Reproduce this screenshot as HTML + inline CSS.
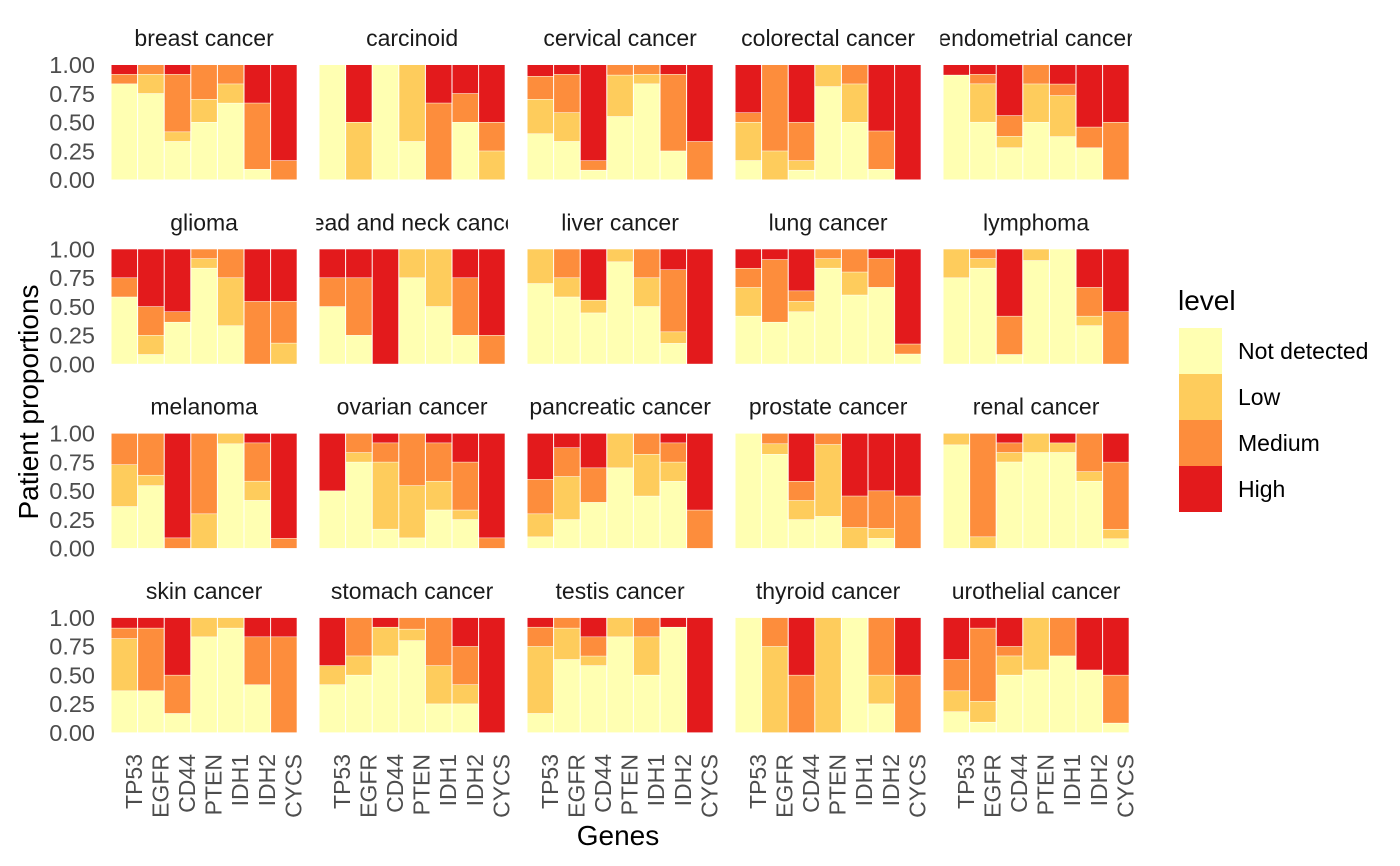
<!DOCTYPE html>
<html><head><meta charset="utf-8"><style>
html,body{margin:0;padding:0;background:#fff;}
svg{display:block;font-family:"Liberation Sans",Arial,sans-serif;}
</style></head><body>
<svg id="chart" width="1400" height="866" viewBox="0 0 1400 866" xmlns="http://www.w3.org/2000/svg">
<g id="panels"></g>
<text x="618" y="845" font-size="28" fill="#000" text-anchor="middle">Genes</text>
<text transform="translate(38,402) rotate(-90)" font-size="28" fill="#000" text-anchor="middle">Patient proportions</text>
<g>
<text x="1178" y="310" font-size="28" fill="#000">level</text>
<rect x="1179" y="328" width="43" height="46" fill="#FFFFB2"/>
<rect x="1179" y="374" width="43" height="46" fill="#FECC5C"/>
<rect x="1179" y="420" width="43" height="46" fill="#FD8D3C"/>
<rect x="1179" y="466" width="43" height="46" fill="#E31A1C"/>
<text x="1238" y="359" font-size="23" fill="#000">Not detected</text>
<text x="1238" y="405" font-size="23" fill="#000">Low</text>
<text x="1238" y="451" font-size="23" fill="#000">Medium</text>
<text x="1238" y="497" font-size="23" fill="#000">High</text>
</g>
</svg>
<script>
const cancers = ["breast cancer","carcinoid","cervical cancer","colorectal cancer","endometrial cancer","glioma","head and neck cancer","liver cancer","lung cancer","lymphoma","melanoma","ovarian cancer","pancreatic cancer","prostate cancer","renal cancer","skin cancer","stomach cancer","testis cancer","thyroid cancer","urothelial cancer"];
const genes = ["TP53","EGFR","CD44","PTEN","IDH1","IDH2","CYCS"];
const levels = ["Not detected","Low","Medium","High"];
const yTicks = [0,0.25,0.5,0.75,1];
const yTickLabels = ["0.00","0.25","0.50","0.75","1.00"];
const notDetected = [
[.833,.75,.333,.5,.667,.091,0],[1,0,1,.333,0,.5,0],[.4,.333,.083,.55,.833,.25,0],[.167,0,.083,.81,.5,.091,0],[.91,.5,.278,.5,.375,.278,0],
[.583,.083,.364,.833,.333,0,0],[.5,.25,0,.75,.5,.25,0],[.7,.583,.444,.889,.5,.18,0],[.417,.364,.455,.833,.6,.667,.087],[.75,.833,.083,.9,1,.333,0],
[.364,.545,0,0,.909,.417,0],[.5,.75,.167,.091,.333,.25,0],[.1,.25,.4,.7,.455,.583,0],[1,.818,.25,.278,0,.087,0],[.9,0,.75,.833,.833,.583,.083],
[.364,.364,.167,.833,.909,.417,0],[.417,.5,.667,.8,.25,.25,0],[.167,.636,.583,.833,.5,.917,0],[1,0,0,0,1,.25,0],[.182,.091,.5,.545,.667,.545,.083]];
const low = [
[0,.167,.083,.2,.167,0,0],[0,.5,0,.667,0,0,.25],[.3,.25,0,.36,.083,0,0],[.333,.25,.083,.19,.333,0,0],[0,.333,.1,.333,.357,0,0],
[0,.167,0,.083,.417,0,.182],[0,0,0,.25,.5,0,0],[.3,.167,.111,.111,.25,.1,0],[.25,0,.091,.083,.2,0,0],[.25,.083,0,.1,0,.083,0],
[.364,.091,0,.3,.091,.167,0],[0,.083,.583,.455,.25,.083,0],[.2,.375,0,.3,.364,.167,0],[0,.091,.167,.625,.182,.087,0],[.1,.1,.083,.167,.083,.083,.083],
[.455,0,0,.167,.091,0,0],[.167,.167,.25,.1,.333,.167,0],[.583,.273,.083,.167,.333,0,0],[0,.75,0,1,0,.25,0],[.182,.182,.167,.455,0,0,0]];
const medium = [
[.083,.083,.5,.3,.167,.576,.167],[0,0,0,0,.667,.25,.25],[.2,.333,.083,.09,.083,.667,.333],[.083,.75,.333,0,.167,.333,0],[0,.083,.18,.167,.1,.18,.5],
[.167,.25,.091,.083,.25,.545,.364],[.25,.5,0,0,0,.5,.25],[0,.25,0,0,.25,.54,0],[.167,.545,.091,.083,.2,.25,.087],[0,.083,.333,0,0,.25,.455],
[.273,.364,.091,.7,0,.333,.087],[0,.167,.167,.455,.333,.417,.091],[.3,.25,.3,0,.182,.167,.333],[0,.091,.167,.097,.273,.326,.455],[0,.9,.083,0,0,.333,.583],
[.091,.545,.333,0,0,.417,.833],[0,.333,0,.1,.417,.333,0],[.167,.091,.167,0,.167,0,0],[0,.25,.5,0,0,.5,.5],[.273,.636,.083,0,.333,0,.417]];
const high = [
[.083,0,.083,0,0,.333,.833],[0,.5,0,0,.333,.25,.5],[.1,.083,.833,0,0,.083,.667],[.417,0,.5,0,0,.576,1],[.09,.083,.442,0,.168,.542,.5],
[.25,.5,.545,0,0,.455,.454],[.25,.25,1,0,0,.25,.75],[0,0,.444,0,0,.18,1],[.167,.091,.364,0,0,.083,.826],[0,0,.583,0,0,.333,.545],
[0,0,.909,0,0,.083,.913],[.5,0,.083,0,.083,.25,.909],[.4,.125,.3,0,0,.083,.667],[0,0,.417,0,.545,.5,.545],[0,0,.083,0,.083,0,.25],
[.091,.091,.5,0,0,.167,.167],[.417,0,.083,0,0,.25,1],[.083,0,.167,0,0,.083,1],[0,0,.5,0,0,0,.5],[.364,.091,.25,0,0,.455,.5]];
const colors = ["#FFFFB2","#FECC5C","#FD8D3C","#E31A1C"];
const series = [notDetected, low, medium, high];

const NS = "http://www.w3.org/2000/svg";
const U = 26.6, COLW = 208, ROWH = 184.3, YH = 115;
function firstBarLeft(col){ return 111 + col*COLW; }
function xBand(col, g){ return firstBarLeft(col) + g*U; }
function yZero(row){ return 180 + row*ROWH; }
function yScale(row, v){ return yZero(row) - v*YH; }
function mk(tag, attrs, parent){ const e=document.createElementNS(NS,tag); for(const k in attrs) e.setAttribute(k,attrs[k]); parent.appendChild(e); return e; }
const root = document.getElementById('panels');
cancers.forEach((name, c) => {
  const col = c % 5, row = Math.floor(c / 5);
  const g = mk('g', {}, root);
  
  
  const pl = firstBarLeft(col) - 0.1*U, pw = 7.2*U;
  const cp = mk('clipPath', {id:'clip'+c}, g);
  mk('rect', {x:pl, y:yZero(row)-170, width:pw, height:60}, cp);
  const st = mk('text', {x:pl+pw/2, y:yZero(row)-134, 'font-size':23, fill:'#1a1a1a', 'text-anchor':'middle', 'clip-path':'url(#clip'+c+')'}, g);
  
  
  st.textContent = name;
  genes.forEach((gene, gi) => {
    const vals = series.map(s => s[c][gi]);
    const tot = vals.reduce((a,b)=>a+b,0) || 1;
    let cum = 0;
    vals.forEach((v, li) => {
      if (v <= 0) return;
      const y0 = yScale(row, cum/tot), y1 = yScale(row, (cum+v)/tot);
      cum += v;
      const r = mk('rect', {x:xBand(col,gi)+0.5, y:y1, width:U-1, height:Math.max(0,y0-y1-0.5), fill:colors[li]}, g);
      
      
    });
  });
  if (col === 0) {
    yTicks.forEach((t, ti) => {
      const tl = mk('text', {x:95, y:yScale(row,t)+8, 'font-size':23.5, fill:'#4d4d4d', 'text-anchor':'end'}, g);
      
      
      tl.textContent = yTickLabels[ti];
    });
  }
  if (row === 3) {
    genes.forEach((gene, gi) => {
      const x = xBand(col,gi) + U/2 + 17.5;
      const tl = mk('text', {transform:'translate('+x+',754) rotate(-90)', 'font-size':23, fill:'#4d4d4d', 'text-anchor':'end'}, g);
      
      
      tl.textContent = gene;
    });
  }
});
</script>
</body></html>
